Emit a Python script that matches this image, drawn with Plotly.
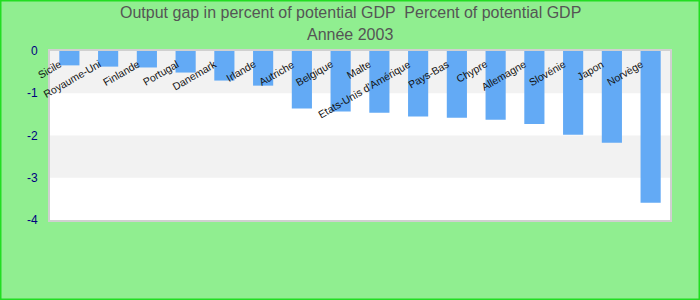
import plotly.graph_objects as go

categories = ["Sicile", "Royaume-Uni", "Finlande", "Portugal", "Danemark", "Irlande",
              "Autriche", "Belgique", "Malte", "Etats-Unis d'Amérique", "Pays-Bas",
              "Chypre", "Allemagne", "Slovénie", "Japon", "Norvège"]
values = [-0.34, -0.37, -0.39, -0.51, -0.70, -0.82, -1.36, -1.43, -1.46, -1.55,
          -1.58, -1.63, -1.73, -1.98, -2.17, -3.59]
y_ticks = [0, -1, -2, -3, -4]
title_line1 = "Output gap in percent of potential GDP  Percent of potential GDP"
title_line2 = "Année 2003"

L, R, T, B = 50, 30, 51, 80
W, H = 700, 300

fig = go.Figure()
fig.add_trace(go.Bar(x=list(range(len(categories))), y=values,
                     marker=dict(color="#63aaf5", line=dict(width=0)),
                     hoverinfo="skip"))

# alternating bands
for lo, hi, col in [(-1, 0, "#f2f2f2"), (-3, -2, "#f2f2f2")]:
    fig.add_shape(type="rect", xref="paper", yref="y", x0=0, x1=1, y0=lo, y1=hi,
                  fillcolor=col, line=dict(width=0), layer="below")

# category labels inside the plot
for i, c in enumerate(categories):
    fig.add_annotation(x=i, y=0, xref="x", yref="y", text=c, showarrow=False,
                       textangle=-30, xanchor="right", yanchor="top",
                       xshift=-3, yshift=-4,
                       font=dict(family="Liberation Sans, Arial", size=10.5, color="#111"))

pw = W - L - R
ph = H - T - B

# title lines
for txt, ypix in [(title_line1, 13), (title_line2, 35)]:
    fig.add_annotation(x=(W / 2 - L) / pw, y=1 + (T - ypix) / ph, xref="paper", yref="paper",
                       text=txt, showarrow=False, xanchor="center", yanchor="middle",
                       font=dict(family="Liberation Sans, Arial", size=16, color="#555555"))

fig.add_shape(type="rect", xref="paper", yref="paper",
              x0=-L / pw + 0.5 / pw, x1=1 + R / pw - 0.5 / pw,
              y0=-B / ph + 0.5 / ph, y1=1 + T / ph - 0.5 / ph,
              line=dict(color="#22dd22", width=2), fillcolor="rgba(0,0,0,0)", layer="above")

fig.update_layout(
    width=W, height=H,
    margin=dict(l=L, r=R, t=T, b=B),
    paper_bgcolor="#90ee90", plot_bgcolor="white",
    bargap=0.48,
    showlegend=False,
    xaxis=dict(range=[-0.5, len(categories) - 0.5], showticklabels=False, showgrid=False,
               zeroline=False, showline=True, linecolor="#d0d0d0", linewidth=2, mirror=True,
               ticks=""),
    yaxis=dict(range=[-4, 0], tickvals=y_ticks, ticktext=[str(v) for v in y_ticks],
               showgrid=False, zeroline=False, showline=True, linecolor="#d0d0d0",
               linewidth=2, mirror=True, ticks="", ticklabelstandoff=8,
               tickfont=dict(family="Liberation Sans, Arial", size=12, color="#000080")),
)

fig.write_html("out.html")
